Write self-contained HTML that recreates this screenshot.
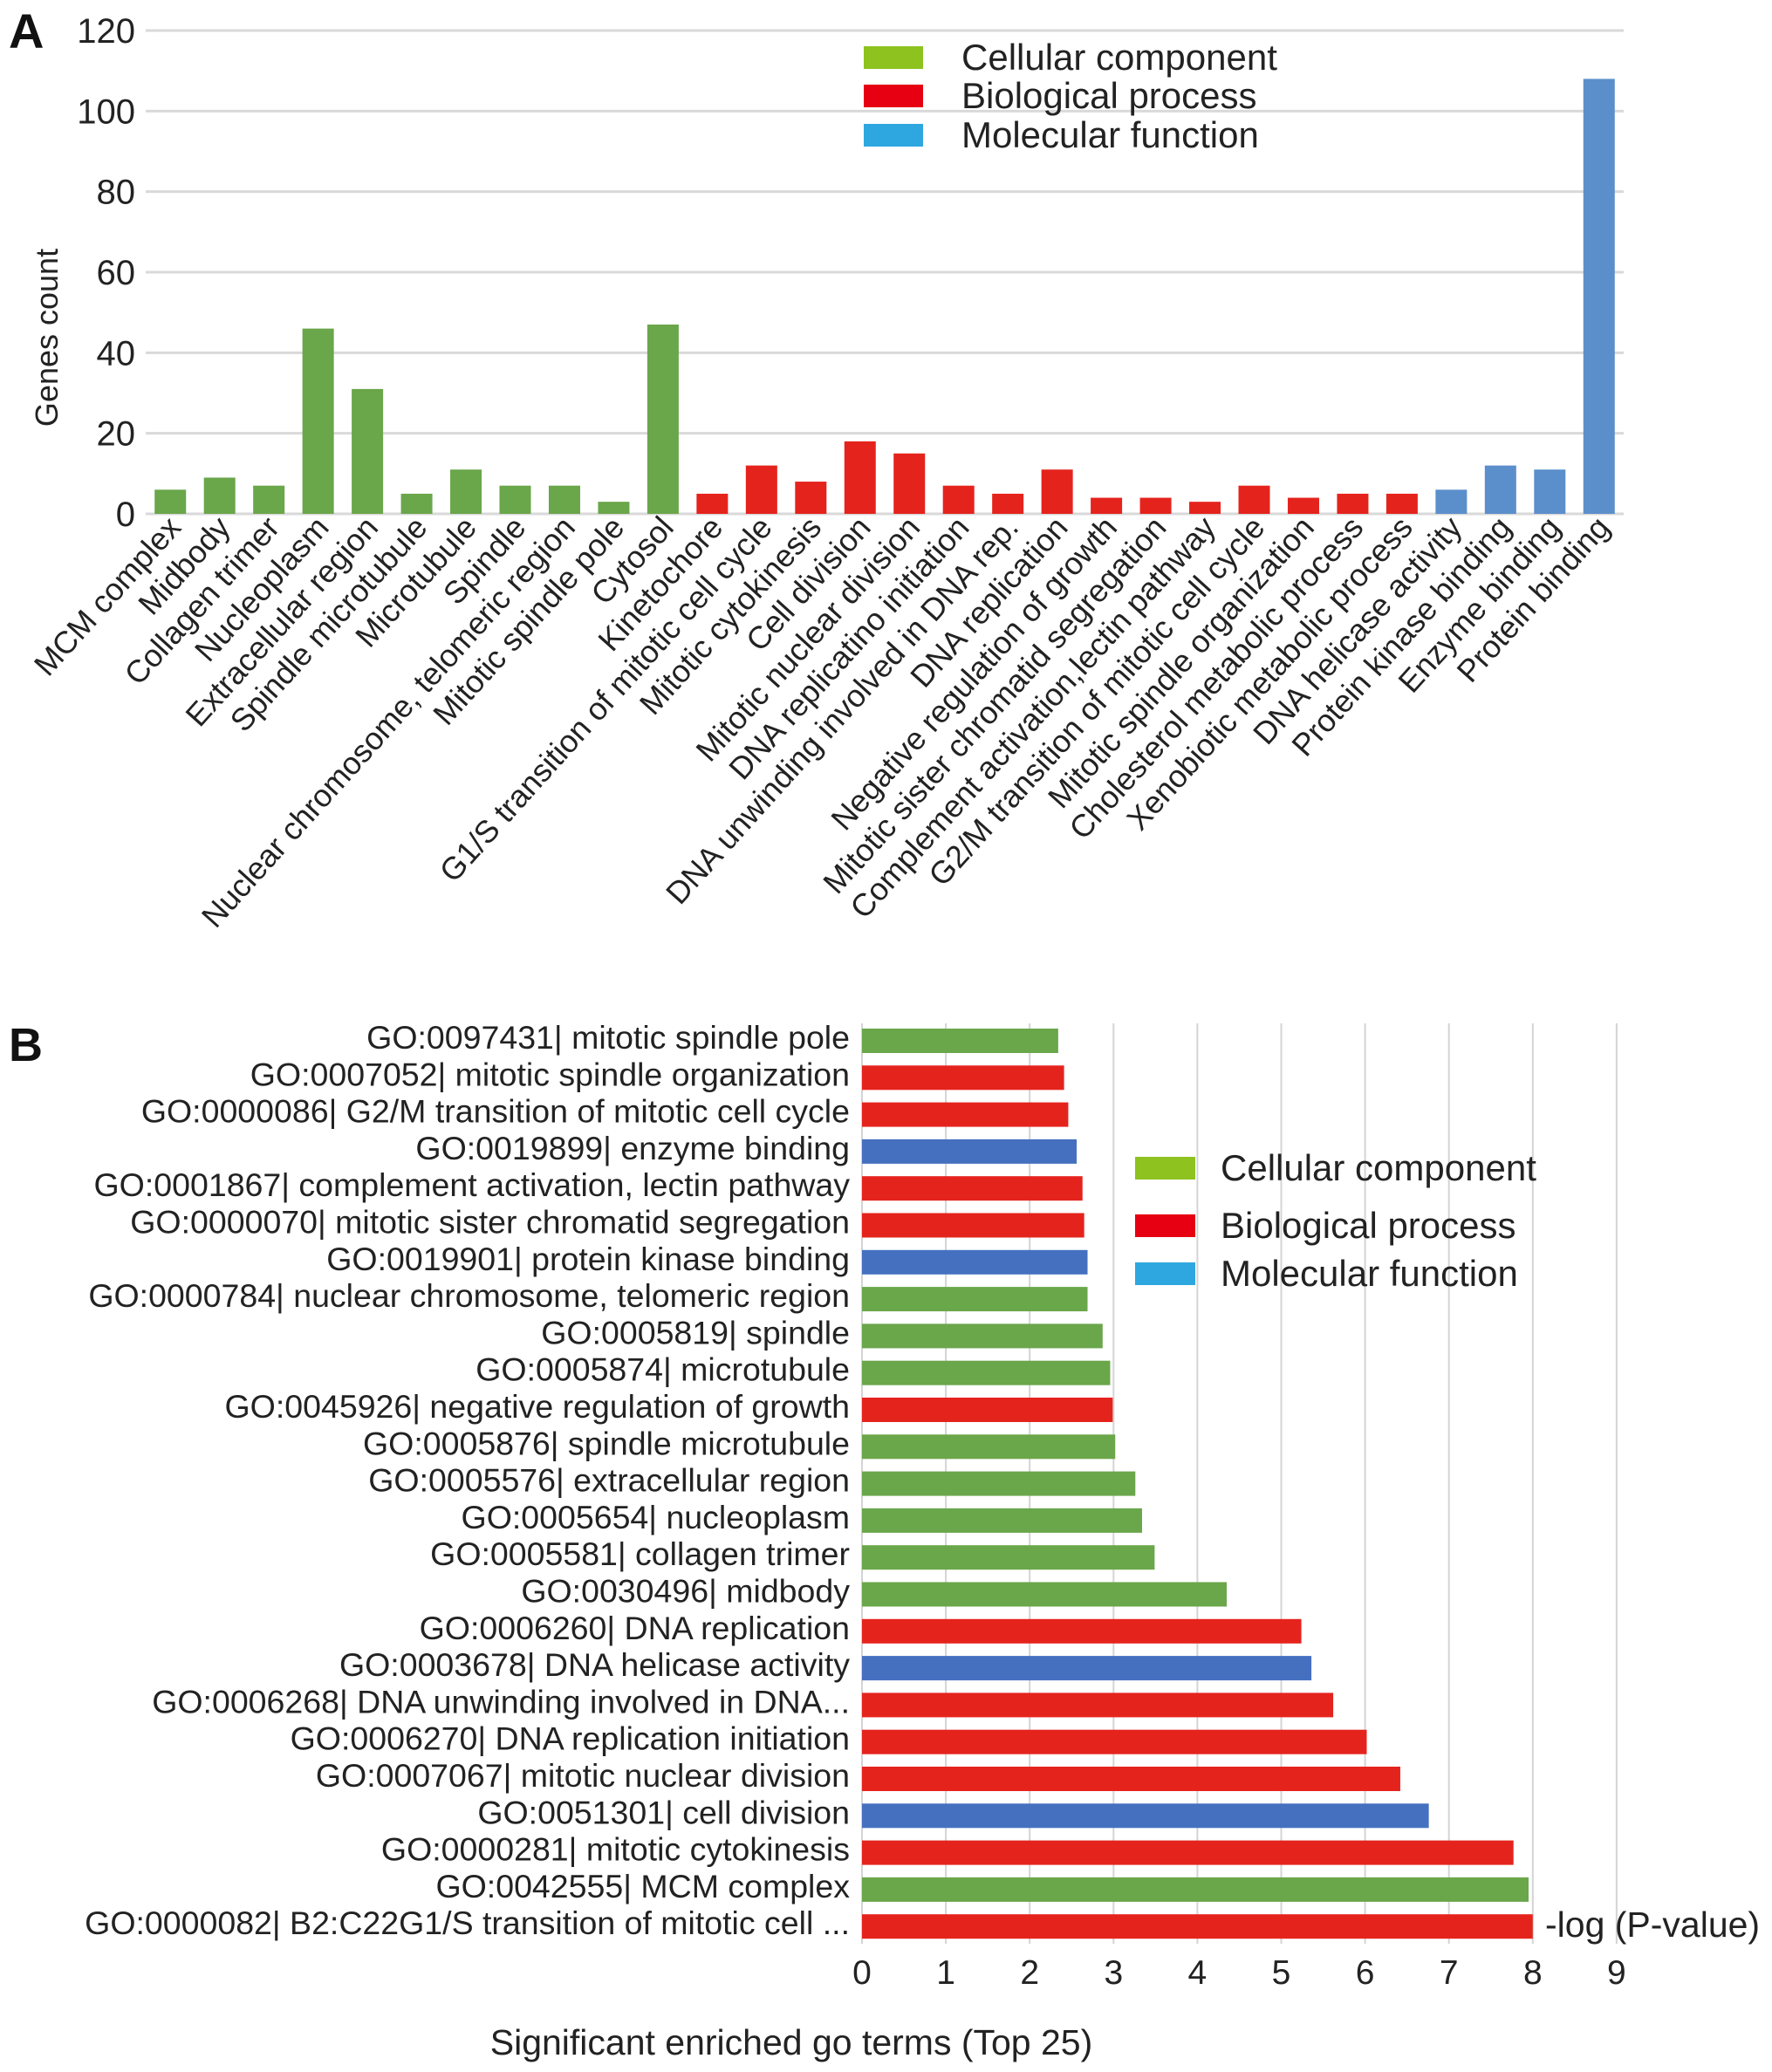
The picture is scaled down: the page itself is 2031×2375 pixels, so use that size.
<!DOCTYPE html>
<html><head><meta charset="utf-8"><style>
html,body{margin:0;padding:0;background:#fff;}
svg{display:block;font-family:"Liberation Sans",Arial,sans-serif;}
</style></head><body>
<svg id="fig" width="2031" height="2375" viewBox="0 0 2031 2375" xmlns="http://www.w3.org/2000/svg">
<text x="10" y="55" font-size="56" font-weight="bold" fill="#111">A</text>
<text x="10" y="1216" font-size="54" font-weight="bold" fill="#111">B</text>
<g id="chartA"></g>
<g id="chartB"></g>
</svg>
<script>
const catsA = ["MCM complex","Midbody","Collagen trimer","Nucleoplasm","Extracellular region","Spindle microtubule","Microtubule","Spindle","Nuclear chromosome, telomeric region","Mitotic spindle pole","Cytosol","Kinetochore","G1/S transition of mitotic cell cycle","Mitotic cytokinesis","Cell division","Mitotic nuclear division","DNA replicatino initiation","DNA unwinding involved in DNA rep.","DNA replication","Negative regulation of growth","Mitotic sister chromatid segregation","Complement activation,lectin pathway","G2/M transition of mitotic cell cycle","Mitotic spindle organization","Cholesterol metabolic process","Xenobiotic metabolic process","DNA helicase activity","Protein kinase binding","Enzyme binding","Protein binding"];
const valsA = [6,9,7,46,31,5,11,7,7,3,47,5,12,8,18,15,7,5,11,4,4,3,7,4,5,5,6,12,11,108];
const typesA = ["cc","cc","cc","cc","cc","cc","cc","cc","cc","cc","cc","bp","bp","bp","bp","bp","bp","bp","bp","bp","bp","bp","bp","bp","bp","bp","mf","mf","mf","mf"];
const ticksA = [0,20,40,60,80,100,120];

const catsB = ["GO:0097431| mitotic spindle pole","GO:0007052| mitotic spindle organization","GO:0000086| G2/M transition of mitotic cell cycle","GO:0019899| enzyme binding","GO:0001867| complement activation, lectin pathway","GO:0000070| mitotic sister chromatid segregation","GO:0019901| protein kinase binding","GO:0000784| nuclear chromosome, telomeric region","GO:0005819| spindle","GO:0005874| microtubule","GO:0045926| negative regulation of growth","GO:0005876| spindle microtubule","GO:0005576| extracellular region","GO:0005654| nucleoplasm","GO:0005581| collagen trimer","GO:0030496| midbody","GO:0006260| DNA replication","GO:0003678| DNA helicase activity","GO:0006268| DNA unwinding involved in DNA...","GO:0006270| DNA replication initiation","GO:0007067| mitotic nuclear division","GO:0051301| cell division","GO:0000281| mitotic cytokinesis","GO:0042555| MCM complex","GO:0000082| B2:C22G1/S transition of mitotic cell ..."];
const valsB = [2.34,2.41,2.46,2.56,2.63,2.65,2.69,2.69,2.87,2.96,2.99,3.02,3.26,3.34,3.49,4.35,5.24,5.36,5.62,6.02,6.42,6.76,7.77,7.95,8.0];
const typesB = ["cc","bp","bp","mf","bp","bp","mf","cc","cc","cc","bp","cc","cc","cc","cc","cc","bp","mf","bp","bp","bp","mf","bp","cc","bp"];
const ticksB = [0,1,2,3,4,5,6,7,8,9];
const legendLabels = ["Cellular component","Biological process","Molecular function"];

const NS = "http://www.w3.org/2000/svg";
function mk(tag, attrs, parent){const e=document.createElementNS(NS,tag);for(const k in attrs)e.setAttribute(k,attrs[k]);parent.appendChild(e);return e;}
const colA={cc:"#6aa64a",bp:"#e5231d",mf:"#5b8fcb"};
const colB={cc:"#6aa64a",bp:"#e5231d",mf:"#4570c0"};
const legCol=["#8dc21f","#e60012","#2ea7e0"];

// Chart A
const gA=document.getElementById("chartA");
const A={l:167,r:1861,y0:589,y1:35,max:120};
const yA=v=>A.y0-(v/A.max)*(A.y0-A.y1);
const bw=(A.r-A.l)/catsA.length;
const xA=i=>A.l+bw*(i+0.5);
ticksA.forEach(t=>{
  const ln=mk("line",{x1:A.l,x2:A.r,y1:yA(t),y2:yA(t),stroke:"#d9d9d9","stroke-width":3},gA);
  
  
  const tx=mk("text",{x:155,y:yA(t)+14,"font-size":40,"text-anchor":"end",fill:"#222"},gA);
  
  
  tx.textContent=t;
});
const yt=mk("text",{x:0,y:0,"font-size":36,"text-anchor":"middle",fill:"#222",transform:"translate(66,387) rotate(-90)"},gA);


yt.textContent="Genes count";
catsA.forEach((c,i)=>{
  const r=mk("rect",{x:xA(i)-18,y:yA(valsA[i]),width:36,height:A.y0-yA(valsA[i]),fill:colA[typesA[i]]},gA);
  
  
  const t=mk("text",{x:0,y:0,"font-size":36,"text-anchor":"end",fill:"#222",transform:`translate(${xA(i)+14},${606}) rotate(-48)`},gA);
  
  
  t.textContent=c;
});
const legAy=[53,97,142];
legendLabels.forEach((l,i)=>{
  const r=mk("rect",{x:990,y:legAy[i],width:68,height:26,fill:legCol[i]},gA);
  
  
  const t=mk("text",{x:1102,y:legAy[i]+27,"font-size":42,fill:"#222"},gA);
  
  
  t.textContent=l;
});

// Chart B
const gB=document.getElementById("chartB");
const B={x0:988,unit:96.1,top:1173,bot:2228,c0:1193,pitch:42.3};
const xB=v=>B.x0+v*B.unit;
const yB=i=>B.c0+i*B.pitch;
ticksB.forEach(t=>{
  const ln=mk("line",{x1:xB(t),x2:xB(t),y1:B.top,y2:B.bot,stroke:"#d4d4d4","stroke-width":2},gB);
  
  
  const tx=mk("text",{x:xB(t),y:2274,"font-size":39,"text-anchor":"middle",fill:"#222"},gB);
  
  
  tx.textContent=t;
});
catsB.forEach((c,i)=>{
  const r=mk("rect",{x:B.x0,y:yB(i)-14,width:xB(valsB[i])-B.x0,height:28,fill:colB[typesB[i]]},gB);
  
  
  const t=mk("text",{x:974,y:yB(i)+9,"font-size":37.5,"text-anchor":"end",fill:"#222"},gB);
  
  
  t.textContent=c;
});
const lg=mk("text",{x:1771,y:2220,"font-size":41,fill:"#222"},gB);


lg.textContent="-log (P-value)";
const xt=mk("text",{x:907,y:2355,"font-size":41,"text-anchor":"middle",fill:"#222"},gB);


xt.textContent="Significant enriched go terms (Top 25)";
const legBy=[1326,1392,1447];
legendLabels.forEach((l,i)=>{
  const r=mk("rect",{x:1301,y:legBy[i],width:69,height:26,fill:legCol[i]},gB);
  
  
  const t=mk("text",{x:1399,y:legBy[i]+27,"font-size":42,fill:"#222"},gB);
  
  
  t.textContent=l;
});
</script>
</body></html>
